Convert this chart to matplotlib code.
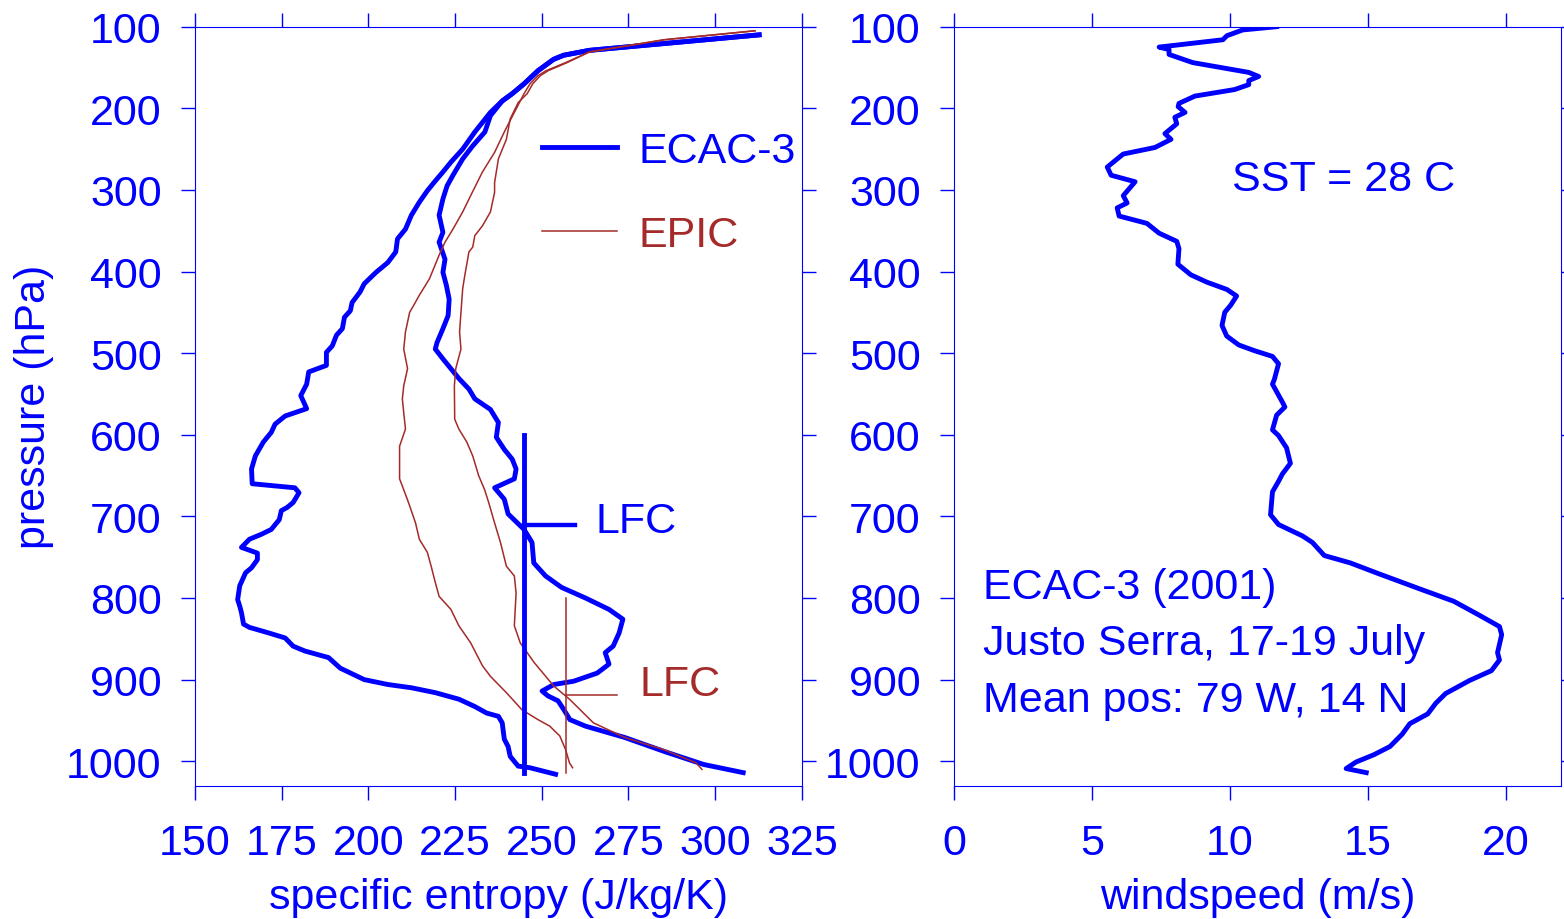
import matplotlib
matplotlib.use("Agg")
import matplotlib.pyplot as plt

plt.rcParams["font.family"] = ["Liberation Sans", "DejaVu Sans"]
plt.rcParams["font.size"] = 31

BLUE = "#0000ff"
BROWN = "#a52a2a"

# ECAC-3 entropy (outer) and saturated entropy (inner), pressure in hPa
ecac_s_p = [110, 129, 135, 140, 154, 170, 182, 191, 205, 229, 250, 266, 278, 289, 301, 315,
            331, 348, 360, 376, 389, 401, 415, 425, 438, 448, 456, 470, 478, 491, 499, 515,
            523, 538, 552, 568, 577, 587, 597, 609, 626, 642, 660, 665, 671, 683, 689, 693,
            704, 716, 722, 728, 738, 745, 753, 763, 769, 785, 802, 810, 818, 832, 836, 843,
            849, 859, 865, 873, 886, 900, 906, 910, 916, 924, 933, 941, 945, 953, 973, 982,
            994, 1006, 1008, 1016]
ecac_s = [312.7, 263.7, 256.3, 253.4, 248.9, 244.9, 241.5, 238.6, 235.2, 230.7, 227.2, 223.8,
          221.5, 219.3, 217.0, 214.7, 212.4, 210.7, 208.4, 207.9, 205.6, 202.2, 198.8, 197.6,
          195.3, 194.8, 193.1, 192.5, 190.8, 189.6, 187.9, 187.9, 182.8, 182.2, 180.5, 182.2,
          176.0, 173.1, 172.0, 169.7, 167.4, 166.3, 166.5, 178.8, 180.0, 178.3, 176.6, 174.9,
          174.3, 172.0, 169.1, 165.7, 163.4, 168.0, 168.0, 166.3, 164.6, 162.9, 162.3, 162.9,
          163.4, 164.0, 165.7, 171.4, 176.0, 178.3, 181.7, 188.5, 191.9, 198.8, 205.6, 212.4,
          219.3, 226.1, 230.7, 234.1, 237.5, 238.6, 239.2, 240.3, 240.9, 243.2, 246.6, 254.0]

ecac_ss_p = [110, 129, 135, 140, 154, 170, 182, 191, 209, 229, 246, 262, 282, 295, 311, 331,
             352, 364, 385, 401, 417, 434, 454, 470, 487, 495, 507, 519, 531, 544, 556, 569,
             585, 603, 618, 630, 642, 654, 665, 679, 697, 716, 732, 757, 773, 787, 800, 814,
             826, 843, 859, 867, 881, 892, 902, 906, 914, 920, 926, 937, 949, 957, 971, 988,
             1004, 1014]
ecac_ss = [312.7, 263.7, 256.3, 253.4, 248.9, 244.9, 241.5, 238.6, 235.2, 233.6, 230.1, 227.2,
           224.4, 222.7, 221.5, 220.4, 221.5, 220.4, 222.1, 221.5, 222.5, 223.3, 223.0, 221.5,
           219.8, 219.3, 221.5, 223.8, 226.1, 229.0, 230.7, 235.2, 237.5, 236.9, 239.2, 241.5,
           242.6, 242.1, 236.4, 239.2, 240.3, 244.9, 247.2, 247.7, 251.1, 255.7, 262.6, 269.4,
           273.4, 272.3, 270.6, 268.3, 269.4, 266.0, 259.2, 253.5, 250.1, 251.8, 254.7, 256.4,
           258.1, 262.6, 274.0, 285.3, 296.7, 308.1]

# EPIC entropy and saturated entropy
epic_s_p = [105, 116, 131, 144, 154, 160, 170, 182, 205, 229, 254, 278, 307, 327, 348, 364,
            380, 409, 429, 442, 450, 474, 495, 519, 540, 556, 573, 593, 614, 654, 673, 687,
            708, 728, 744, 761, 781, 798, 814, 834, 855, 883, 896, 916, 937, 949, 957, 969,
            986, 1002, 1008]
epic_s = [311.5, 285.3, 263.7, 256.9, 251.2, 248.9, 246.6, 244.9, 242.1, 239.2, 236.4, 232.9,
          229.5, 227.2, 224.4, 222.1, 220.4, 217.6, 214.7, 213.0, 211.9, 210.7, 210.2, 211.3,
          210.2, 209.8, 210.2, 210.7, 209.0, 209.0, 210.7, 211.9, 213.6, 214.7, 217.0, 218.1,
          219.3, 220.4, 223.8, 226.1, 229.5, 232.9, 235.2, 239.8, 244.3, 248.9, 252.3, 255.2,
          256.9, 258.0, 258.9]

epic_ss_p = [105, 116, 131, 144, 154, 160, 170, 182, 193, 213, 238, 262, 291, 303, 327, 344,
             356, 370, 376, 405, 421, 450, 474, 495, 519, 540, 581, 593, 609, 626, 650, 667,
             683, 708, 732, 761, 773, 794, 834, 855, 879, 908, 924, 953, 971, 986, 1002, 1010]
epic_ss = [311.5, 285.3, 263.7, 257.3, 251.8, 249.6, 247.4, 245.8, 243.2, 240.9, 239.8, 237.5,
           236.4, 236.4, 235.2, 232.9, 230.7, 230.1, 229.0, 227.8, 227.2, 226.7, 226.3, 226.7,
           225.2, 224.8, 224.9, 226.1, 228.4, 230.1, 231.8, 233.5, 234.7, 236.4, 238.1, 239.8,
           242.1, 242.6, 242.1, 243.8, 247.8, 253.5, 258.0, 264.9, 274.0, 285.3, 294.5, 296.2]

# level of free convection markers
ecac_lfc_s, ecac_lfc_p = 245, 710
epic_lfc_s, epic_lfc_p = 257, 919
lfc_bottom = 1014

# windspeed profile
wind_p = [100, 104, 111, 116, 125, 128, 134, 144, 156, 161, 166, 171, 177, 185, 194, 198,
          205, 211, 219, 231, 238, 248, 256, 272, 282, 290, 307, 316, 322, 332, 341, 353,
          363, 372, 391, 404, 413, 422, 430, 441, 450, 466, 479, 490, 497, 504, 513, 532,
          538, 560, 566, 576, 594, 601, 616, 635, 648, 657, 670, 698, 710, 724, 732, 748,
          757, 770, 788, 804, 820, 835, 845, 867, 876, 889, 901, 917, 929, 942, 954, 967,
          982, 992, 1001, 1009, 1014]
wind = [11.70, 10.47, 9.90, 9.75, 7.44, 7.80, 7.80, 8.66, 10.69, 11.05, 10.69, 10.69, 10.18,
        8.74, 8.16, 8.13, 8.38, 8.01, 8.08, 7.65, 7.87, 7.29, 6.14, 5.56, 5.70, 6.57, 6.14,
        6.28, 5.92, 5.99, 7.00, 7.44, 8.08, 8.16, 8.12, 8.59, 9.17, 9.90, 10.25, 10.04, 9.82,
        9.72, 9.89, 10.33, 10.90, 11.55, 11.77, 11.62, 11.55, 11.91, 12.00, 11.70, 11.55,
        11.77, 12.06, 12.20, 11.91, 11.77, 11.55, 11.48, 11.77, 12.64, 13.00, 13.43, 14.37,
        15.38, 16.82, 18.12, 18.99, 19.78, 19.86, 19.71, 19.78, 19.49, 18.70, 17.83, 17.47,
        17.18, 16.53, 16.25, 15.81, 15.23, 14.58, 14.22, 14.95]

p_ticks = [100, 200, 300, 400, 500, 600, 700, 800, 900, 1000]
s_ticks = [150, 175, 200, 225, 250, 275, 300, 325]
w_ticks = [0, 5, 10, 15, 20]

W, H = 1564, 920
fig = plt.figure(figsize=(W / 100, H / 100), dpi=100)
bottom = 1 - 786.7 / H
height = (786.7 - 27.7) / H
ax1 = fig.add_axes([195 / W, bottom, (801.8 - 195) / W, height])
ax2 = fig.add_axes([953.9 / W, bottom, (1560.7 - 953.9) / W, height])

thick = 3.5
thin = 1.1

ax1.plot(ecac_s, ecac_s_p, color=BLUE, lw=thick, label="ECAC-3")
ax1.plot(ecac_ss, ecac_ss_p, color=BLUE, lw=thick)
ax1.plot(epic_s, epic_s_p, color=BROWN, lw=thin, label="EPIC")
ax1.plot(epic_ss, epic_ss_p, color=BROWN, lw=thin)

# LFC markers
ax1.plot([ecac_lfc_s, ecac_lfc_s], [600, lfc_bottom], color=BLUE, lw=thick)
ax1.plot([ecac_lfc_s, ecac_lfc_s + 14.7], [ecac_lfc_p, ecac_lfc_p], color=BLUE, lw=thick * 0.9)
ax1.text(265.5, 719, "LFC", color=BLUE, va="baseline")
ax1.plot([epic_lfc_s, epic_lfc_s], [800, lfc_bottom], color=BROWN, lw=thin)
ax1.plot([epic_lfc_s, epic_lfc_s + 14.7], [epic_lfc_p, epic_lfc_p], color=BROWN, lw=thin)
ax1.text(278.1, 918.6, "LFC", color=BROWN, va="baseline")

leg = ax1.legend(loc="upper left", bbox_to_anchor=(0.572, 0.862), frameon=False,
                 borderpad=0, borderaxespad=0, handlelength=1.75, handletextpad=0.5,
                 labelspacing=1.02)
for t, c in zip(leg.get_texts(), [BLUE, BROWN]):
    t.set_color(c)

ax2.plot(wind, wind_p, color=BLUE, lw=thick)
ax2.text(10.1, 300, "SST = 28 C", color=BLUE, va="baseline")
ax2.text(1.05, 800, "ECAC-3 (2001)", color=BLUE, va="baseline")
ax2.text(1.05, 869, "Justo Serra, 17-19 July", color=BLUE, va="baseline")
ax2.text(1.05, 938, "Mean pos: 79 W, 14 N", color=BLUE, va="baseline")

ax1.set_xlim(150, 325)
ax1.set_xticks(s_ticks)
ax2.set_xlim(0, 22)
ax2.set_xticks(w_ticks)
ax1.set_xlabel("specific entropy (J/kg/K)", color=BLUE, labelpad=10)
ax2.set_xlabel("windspeed (m/s)", color=BLUE, labelpad=10)
ax1.set_ylabel("pressure (hPa)", color=BLUE, labelpad=9)

for ax in (ax1, ax2):
    ax.set_ylim(1030, 100)
    ax.set_yticks(p_ticks)
    for sp in ax.spines.values():
        sp.set_color(BLUE)
        sp.set_linewidth(0.8)
    ax.tick_params(axis="both", which="both", direction="out", length=10, width=1.0,
                   color=BLUE, labelcolor=BLUE, top=True, right=True)
    ax.tick_params(axis="x", pad=17)
    ax.tick_params(axis="y", pad=14)

fig.savefig("out.png", dpi=100)
